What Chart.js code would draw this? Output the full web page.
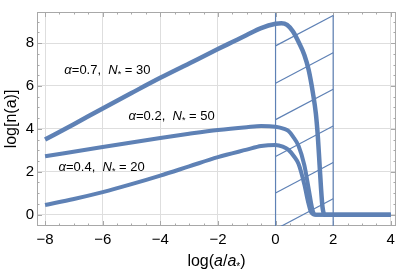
<!DOCTYPE html>
<html>
<head>
<meta charset="utf-8">
<script src="https://cdn.jsdelivr.net/npm/chart.js@4.4.1/dist/chart.umd.min.js"></script>
<style>
  html, body { margin: 0; padding: 0; background: #fff; }
  #wrap { width: 400px; height: 273px; }
</style>
</head>
<body>
<div id="wrap"><canvas id="myChart"></canvas></div>
<script>
// Datos de las curvas
const curve1X = [-8, -7, -6, -5, -4, -3, -2, -1.5, -1, -0.5, 0, 0.2, 0.4, 0.6, 0.8, 1.0, 1.15, 1.3, 1.4, 1.47, 1.53, 1.58, 1.63, 1.7, 4];
const curve1Y = [3.5, 4.22, 4.95, 5.67, 6.38, 7.05, 7.72, 8.05, 8.38, 8.7, 8.9, 8.93, 8.85, 8.55, 8.05, 7.45, 6.75, 5.65, 4.7, 3.6, 2.3, 1.2, 0.35, 0, 0];

const curve2X = [-8, -6, -4, -3, -2, -1, -0.5, 0, 0.3, 0.45, 0.6, 0.8, 1.0, 1.15, 1.27, 1.33, 1.4, 4];
const curve2Y = [2.72, 3.15, 3.57, 3.77, 3.95, 4.08, 4.13, 4.1, 4.0, 3.9, 3.65, 3.2, 2.3, 1.2, 0.3, 0.05, 0, 0];

const curve3X = [-8, -7, -6, -5, -4, -3, -2, -1, -0.5, 0, 0.25, 0.45, 0.65, 0.8, 1.0, 1.13, 1.22, 1.3, 1.38, 4];
const curve3Y = [0.45, 0.73, 1.05, 1.42, 1.82, 2.25, 2.68, 3.03, 3.2, 3.25, 3.17, 3.02, 2.7, 2.36, 1.4, 0.58, 0.15, 0.02, 0, 0];

// Región rayada entre x = 0 y x = 2
const hatchLeft = 0;
const hatchRight = 2;
const hatchStartY = [7.87, 6.13, 4.43, 2.71, 1.01, -0.68];
const hatchEndY = [9.29, 7.55, 5.85, 4.13, 2.43, 0.74];
const hatchTopLeft = 9.4;
const hatchTopRight = 9.29;

// Etiquetas
const labelAlpha = ['0.7', '0.2', '0.4'];
const labelN = ['30', '50', '20'];
const labelX = [-7.33, -5.1, -7.53];
const labelY = [6.72, 4.58, 2.18];

const xTicks = [-8, -6, -4, -2, 0, 2, 4];
const yTicks = [0, 2, 4, 6, 8];

const blue = '#5e81b5';

function pts(xs, ys) {
    return xs.map((x, i) => ({ x: x, y: ys[i] }));
}

const datasets = [
    { data: pts(curve1X, curve1Y), borderWidth: 4.5 },
    { data: pts(curve2X, curve2Y), borderWidth: 4 },
    { data: pts(curve3X, curve3Y), borderWidth: 4 }
].map(d => Object.assign(d, {
    borderColor: blue, pointRadius: 0, fill: false,
    cubicInterpolationMode: 'monotone', borderCapStyle: 'butt'
}));

// líneas verticales y diagonales
datasets.push({ data: [{ x: hatchLeft, y: -1 }, { x: hatchLeft, y: hatchTopLeft }] });
datasets.push({ data: [{ x: hatchRight, y: -1 }, { x: hatchRight, y: hatchTopRight }] });
hatchStartY.forEach((y0, i) => {
    datasets.push({ data: [{ x: hatchLeft, y: y0 }, { x: hatchRight, y: hatchEndY[i] }] });
});
for (let i = 3; i < datasets.length; i++) {
    Object.assign(datasets[i], { borderColor: blue, borderWidth: 1.2, pointRadius: 0, tension: 0, fill: false });
}

// dibuja trozos de texto con fuentes distintas
function drawParts(ctx, parts, px, py) {
    parts.forEach(p => {
        ctx.font = p[0];
        ctx.fillText(p[1], px, py + p[2]);
        px += ctx.measureText(p[1]).width;
    });
}
function partsWidth(ctx, parts) {
    let w = 0;
    parts.forEach(p => { ctx.font = p[0]; w += ctx.measureText(p[1]).width; });
    return w;
}

// Marco con marcas menores (estilo Mathematica)
const framePlugin = {
    id: 'frame',
    beforeDatasetsDraw(chart) {
        const { ctx, chartArea: a, scales: { x, y } } = chart;
        ctx.save();
        ctx.strokeStyle = '#a8a8a8';
        ctx.lineWidth = 1;
        ctx.strokeRect(a.left + 0.5, a.top + 0.5, a.right - a.left - 1, a.bottom - a.top - 1);
        for (let v = -8; v <= 4.001; v += 0.5) {
            const px = Math.round(x.getPixelForValue(v)) + 0.5;
            const len = Math.abs(v % 2) < 1e-6 ? 5 : 2.5;
            ctx.beginPath();
            ctx.moveTo(px, a.bottom); ctx.lineTo(px, a.bottom - len);
            ctx.moveTo(px, a.top); ctx.lineTo(px, a.top + len);
            ctx.stroke();
        }
        for (let v = -0.5; v <= 9.001; v += 0.5) {
            const py = Math.round(y.getPixelForValue(v)) + 0.5;
            const len = Math.abs(v % 2) < 1e-6 ? 5 : 2.5;
            ctx.beginPath();
            ctx.moveTo(a.left, py); ctx.lineTo(a.left + len, py);
            ctx.moveTo(a.right, py); ctx.lineTo(a.right - len, py);
            ctx.stroke();
        }
        ctx.restore();
    },
    afterDraw(chart) {
        const { ctx, chartArea: a, scales: { x, y } } = chart;
        ctx.save();
        ctx.fillStyle = '#000';
        ctx.textBaseline = 'middle';
        labelAlpha.forEach((al, i) => {
            const parts = [
                ['italic 13px "Liberation Sans"', '\u03b1', 0],
                ['13px "Liberation Sans"', '=' + al + ',  ', 0],
                ['italic 13px "Liberation Sans"', 'N', 0],
                ['9px "Liberation Sans"', '*', 4],
                ['13px "Liberation Sans"', ' = ' + labelN[i], 0]
            ];
            drawParts(ctx, parts, x.getPixelForValue(labelX[i]), y.getPixelForValue(labelY[i]));
        });
        // título del eje x: log(a/a*)
        const title = [
            ['16px "Liberation Sans"', 'log(', 0],
            ['italic 16px "Liberation Sans"', 'a', 0],
            ['16px "Liberation Sans"', '/', 0],
            ['italic 16px "Liberation Sans"', 'a', 0],
            ['10px "Liberation Sans"', '*', 5],
            ['16px "Liberation Sans"', ')', 0]
        ];
        const w = partsWidth(ctx, title);
        drawParts(ctx, title, (a.left + a.right) / 2 - w / 2, 262);
        ctx.restore();
    }
};

const tickFont = { family: 'Liberation Sans', size: 15 };

const config = {
    type: 'line',
    data: { datasets: datasets },
    options: {
        responsive: true,
        maintainAspectRatio: false,
        animation: false,
        layout: { padding: { top: 1, right: 3, left: 0, bottom: 0 } },
        plugins: { legend: { display: false }, tooltip: { enabled: false } },
        scales: {
            x: {
                type: 'linear',
                min: -8.28,
                max: 4.18,
                afterFit: s => { s.height = 47; },
                afterBuildTicks: s => { s.ticks = xTicks.map(v => ({ value: v })); },
                ticks: {
                    font: tickFont, color: '#000', padding: 5, maxRotation: 0,
                    callback: v => String(v).replace('-', '\u2212')
                },
                grid: { color: '#dedede', drawTicks: false },
                border: { display: false }
            },
            y: {
                type: 'linear',
                min: -0.53,
                max: 9.45,
                afterFit: s => { s.width = 37; },
                afterBuildTicks: s => { s.ticks = yTicks.map(v => ({ value: v })); },
                ticks: { font: tickFont, color: '#000', padding: 3 },
                grid: { color: '#dedede', drawTicks: false },
                border: { display: false },
                title: {
                    display: true, text: 'log[n(a)]', color: '#000',
                    font: { family: 'Liberation Sans', size: 16 }, padding: { top: 2, bottom: 0 }
                }
            }
        }
    },
    plugins: [framePlugin]
};

const ctx = document.getElementById('myChart').getContext('2d');
const myChart = new Chart(ctx, config);
</script>
</body>
</html>
